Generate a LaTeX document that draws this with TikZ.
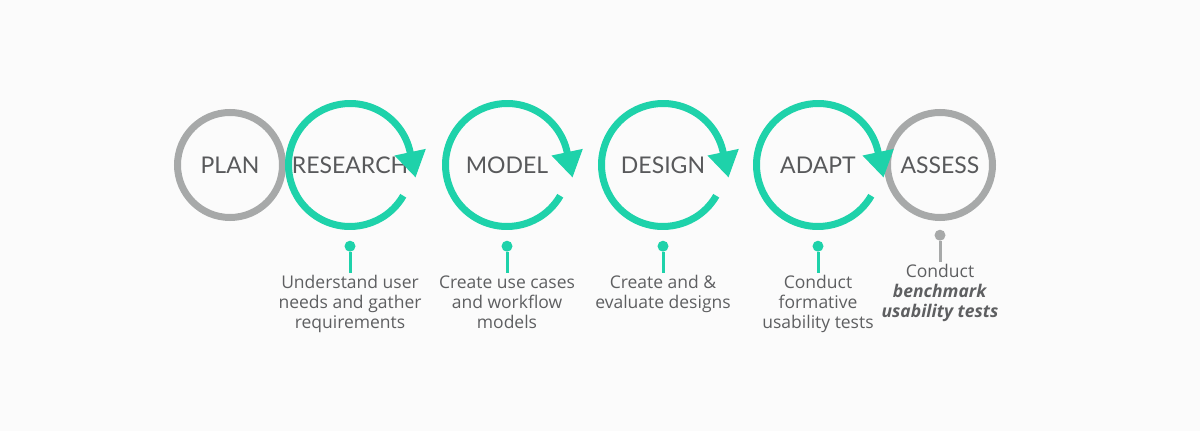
\documentclass[tikz,border=0pt]{standalone}
\usepackage{fontspec}
\setmainfont{Lato}
\newfontfamily\notefont{Open Sans}
\usetikzlibrary{arrows.meta, positioning}

\definecolor{cycleTeal}{HTML}{1ED2AA}
\definecolor{cycleGray}{HTML}{A7A9A9}
\definecolor{phaseText}{HTML}{58595B}
\definecolor{noteText}{HTML}{5E5F61}
\definecolor{pageBack}{HTML}{FBFBFB}

\begin{document}
\begin{tikzpicture}[
  x=1pt, y=1pt,
  font=\fontsize{23}{28}\selectfont,
  % Phase blocks
  ring/.style={
    circle,
    minimum size=123pt,
    inner sep=0pt,
    outer sep=0pt,
    text=phaseText
  },
  endring/.style={
    circle,
    draw=cycleGray,
    line width=7pt,
    minimum size=105pt,
    inner sep=0pt,
    outer sep=0pt,
    text=phaseText
  },
  % Cycle arrows
  cyclearc/.style={
    draw=cycleTeal,
    line width=7pt,
    -{Triangle[width=30pt, length=26pt]}
  },
  % Note markers
  tealdot/.style={circle, fill=cycleTeal, minimum size=11pt, inner sep=0pt},
  graydot/.style={circle, fill=cycleGray, minimum size=11pt, inner sep=0pt},
  stem/.style={line width=3pt},
  note/.style={
    align=center,
    inner sep=0pt,
    text=noteText,
    font=\notefont\fontsize{17.5}{20}\selectfont
  }
]

\fill[pageBack] (0,0) rectangle (1200,431);
\useasboundingbox (0,0) rectangle (1200,431);

% -----------------------------------------------
% PHASES
% -----------------------------------------------
\node[endring] (plan) at (230,266) {PLAN};
\node[ring] (research) at (350,266) {RESEARCH};
\node[ring] (model) at (507,266) {MODEL};
\node[ring] (design) at (663,266) {DESIGN};
\node[ring] (adapt) at (818,266) {ADAPT};
\node[endring] (assess) at (940,266) {ASSESS};

% Cycle arrows round each middle phase
\foreach \phase in {research, model, design, adapt}
  \draw[cyclearc] (\phase.-30) arc[start angle=-30, end angle=-348, radius=61.5pt]
    -- ++(-78:26);

% -----------------------------------------------
% NOTES
% -----------------------------------------------
\node[tealdot, below=14pt of research] (researchDot) {};
\draw[stem, cycleTeal] (researchDot) -- ++(0,-27) coordinate (researchFoot);
\node[note, below=2pt of researchFoot] (researchNote)
  {Understand user\\needs and gather\\requirements};

\node[tealdot, below=14pt of model] (modelDot) {};
\draw[stem, cycleTeal] (modelDot) -- ++(0,-27) coordinate (modelFoot);
\node[note, below=2pt of modelFoot] (modelNote)
  {Create use cases\\and workflow\\models};

\node[tealdot, below=14pt of design] (designDot) {};
\draw[stem, cycleTeal] (designDot) -- ++(0,-27) coordinate (designFoot);
\node[note, below=2pt of designFoot] (designNote)
  {Create and \&\\evaluate designs};

\node[tealdot, below=14pt of adapt] (adaptDot) {};
\draw[stem, cycleTeal] (adaptDot) -- ++(0,-27) coordinate (adaptFoot);
\node[note, below=2pt of adaptFoot] (adaptNote)
  {Conduct\\formative\\usability tests};

\node[graydot, below=12pt of assess] (assessDot) {};
\draw[stem, cycleGray] (assessDot) -- ++(0,-27) coordinate (assessFoot);
\node[note, below=2pt of assessFoot] (assessNote)
  {Conduct\\\textbf{\textit{benchmark}}\\\textbf{\textit{usability tests}}};

\end{tikzpicture}
\end{document}
